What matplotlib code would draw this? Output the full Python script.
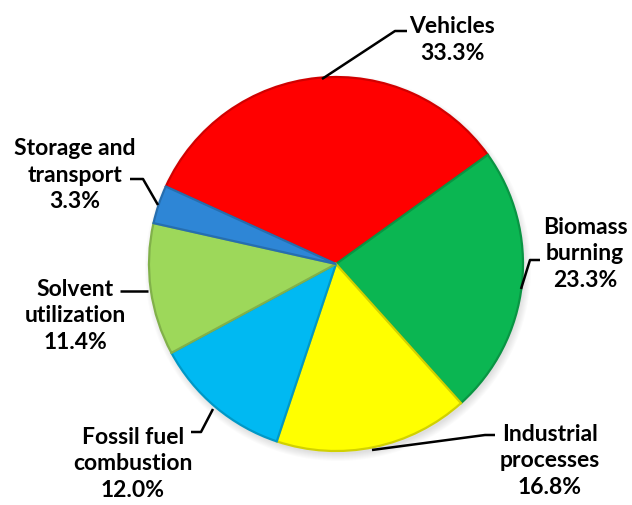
import matplotlib
matplotlib.use("Agg")
import matplotlib.pyplot as plt
from matplotlib.colors import to_rgb

# data
labels = ["Vehicles", "Biomass\nburning", "Industrial\nprocesses",
          "Fossil fuel\ncombustion", "Solvent\nutilization", "Storage and\ntransport"]
shares = [33.3, 23.3, 16.8, 12.0, 11.4, 3.3]
colors = ["#FF0000", "#0BB652", "#FFFF00", "#00B9F2", "#9DD85A", "#2E86D6"]

# label placement (pixel coords, y from top) and leader polylines
label_xy = [(452, 40), (585, 254), (550, 461), (133, 464), (75, 316), (75, 175)]
leaders = [
    [(322, 80), (395, 32), (407, 32)],
    [(540, 261), (530, 261), (521, 290)],
    [(495, 436), (485, 436), (372, 451)],
    [(213, 410), (201, 433), (191, 433)],
    [(120, 292), (148, 292)],
    [(130, 180), (143, 180), (158, 206)],
]

W, H = 632, 506
plt.rcParams["font.family"] = ["Lato", "DejaVu Sans"]
fig = plt.figure(figsize=(W / 100, H / 100), dpi=100)
ax = fig.add_axes([0, 0, 1, 1])

cx, cy, r = 336, H - 265, 187

# soft shadow under the pie
for k in range(8):
    ax.add_patch(plt.Circle((cx + 2, cy - 4), r + 6 - k, color="#000000",
                            alpha=0.015, lw=0, zorder=0))

def darker(c, f=0.82):
    return tuple(v * f for v in to_rgb(c))

wedges, _ = ax.pie(shares, colors=colors, startangle=155.5, counterclock=False,
                   center=(cx, cy), radius=r, normalize=True,
                   wedgeprops=dict(linewidth=1.6))
for w, c in zip(wedges, colors):
    w.set_edgecolor(darker(c))
    w.set_zorder(2)

for (x, y), lab, val in zip(label_xy, labels, shares):
    ax.text(x, H - y, f"{lab}\n{val:.1f}%", ha="center", va="center",
            fontsize=16.5, fontweight="bold", color="#000000",
            linespacing=1.35, zorder=5)

for pts in leaders:
    xs = [p[0] for p in pts]
    ys = [H - p[1] for p in pts]
    ax.plot(xs, ys, color="black", lw=1.8, zorder=4, solid_capstyle="butt")

ax.set_xlim(0, W)
ax.set_ylim(0, H)
ax.set_aspect("equal")
ax.axis("off")
fig.savefig("out.png", dpi=100)
